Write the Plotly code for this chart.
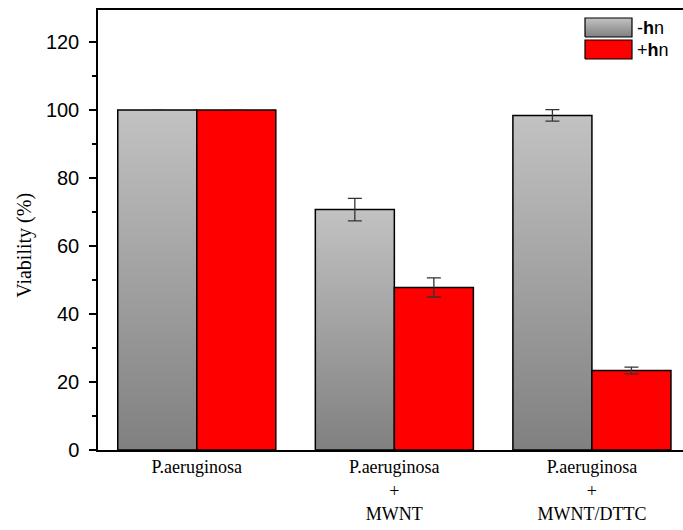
import plotly.graph_objects as go

categories = ["P.aeruginosa", "P.aeruginosa<br>+<br>MWNT", "P.aeruginosa<br>+<br>MWNT/DTTC"]
dark_vals = [100.0, 70.7, 98.4]
dark_err = [0.0, 3.3, 1.7]
light_vals = [100.0, 47.8, 23.4]
light_err = [0.0, 2.8, 1.0]
series_names = ["-<b>h</b>n", "+<b>h</b>n"]

W = 0.4  # bar width in category units
GREY_SCALE = [[0, "#808080"], [1, "#c2c2c2"]]
fig = go.Figure()

def rect(i, v, left):
    x0 = i - W if left else i
    x1 = x0 + W
    return [x0, x1, x1, x0, x0], [0, 0, v, v, 0]

for i, v in enumerate(dark_vals):
    xs, ys = rect(i, v, True)
    fig.add_trace(go.Scatter(
        x=xs, y=ys, mode="lines", fill="toself",
        line=dict(color="black", width=1.5),
        fillgradient=dict(type="vertical", start=0, stop=v, colorscale=GREY_SCALE),
        showlegend=False, hoverinfo="skip"))

for i, v in enumerate(light_vals):
    xs, ys = rect(i, v, False)
    fig.add_trace(go.Scatter(
        x=xs, y=ys, mode="lines", fill="toself",
        line=dict(color="black", width=1.5), fillcolor="#ff0000",
        showlegend=False, hoverinfo="skip"))

fig.add_trace(go.Scatter(
    x=[i - W / 2 for i in range(3)], y=dark_vals, mode="markers",
    marker=dict(size=1, color="rgba(0,0,0,0)"), showlegend=False, hoverinfo="skip",
    error_y=dict(type="data", array=dark_err, color="#333333", thickness=1.3, width=7)))
fig.add_trace(go.Scatter(
    x=[i + W / 2 for i in range(3)], y=light_vals, mode="markers",
    marker=dict(size=1, color="rgba(0,0,0,0)"), showlegend=False, hoverinfo="skip",
    error_y=dict(type="data", array=light_err, color="#333333", thickness=1.3, width=7)))

# Legend drawn on an overlay axis measured in plot-area pixels
LEG_X0, LEG_W, LEG_H = 487, 47, 19
leg_rows = [(8, True), (30, False)]
annotations = []
for (top, grey), name in zip(leg_rows, series_names):
    xs = [LEG_X0, LEG_X0 + LEG_W, LEG_X0 + LEG_W, LEG_X0, LEG_X0]
    ys = [top + LEG_H, top + LEG_H, top, top, top + LEG_H]
    kw = dict(fillgradient=dict(type="vertical", start=top + LEG_H, stop=top,
                                colorscale=GREY_SCALE)) if grey else dict(fillcolor="#ff0000")
    fig.add_trace(go.Scatter(x=xs, y=ys, mode="lines", fill="toself",
                             line=dict(color="black", width=1.2),
                             xaxis="x2", yaxis="y2", showlegend=False,
                             hoverinfo="skip", **kw))
    annotations.append(dict(text=name, xref="x2", yref="y2", x=LEG_X0 + LEG_W + 3,
                            y=top + LEG_H / 2, xanchor="left", yanchor="middle",
                            showarrow=False,
                            font=dict(family="Arial, Liberation Sans", size=18, color="black")))

annotations.append(dict(text="Viability (%)", xref="paper", yref="paper",
                        x=-0.125, y=0.466, xanchor="center", yanchor="middle",
                        textangle=-90, showarrow=False,
                        font=dict(family="Liberation Serif, Times New Roman", size=20, color="black")))

fig.update_layout(
    width=683, height=530,
    margin=dict(l=98, r=0, t=10, b=80),
    plot_bgcolor="white", paper_bgcolor="white",
    showlegend=False,
    xaxis=dict(range=[-0.5, 2.461], tickvals=[0, 1, 2], ticktext=categories,
               showgrid=False, zeroline=False, showline=True, linecolor="black",
               linewidth=1.5, mirror=True, ticks="",
               tickfont=dict(family="Liberation Serif, Times New Roman", size=18, color="black")),
    yaxis=dict(range=[0, 129.4], tick0=0, dtick=20, showgrid=False, zeroline=False,
               showline=True, linecolor="black", linewidth=1.5, ticks="outside",
               ticklen=7, tickwidth=1.5, tickcolor="black", ticklabelstandoff=6,
               minor=dict(dtick=10, ticks="outside", ticklen=4, tickwidth=1.5, tickcolor="black"),
               tickfont=dict(family="Arial, Liberation Sans", size=20, color="black")),
    xaxis2=dict(overlaying="x", range=[0, 585], visible=False, fixedrange=True),
    yaxis2=dict(overlaying="y", range=[440, 0], visible=False, fixedrange=True),
    annotations=annotations,
)

fig.write_html("out.html")
